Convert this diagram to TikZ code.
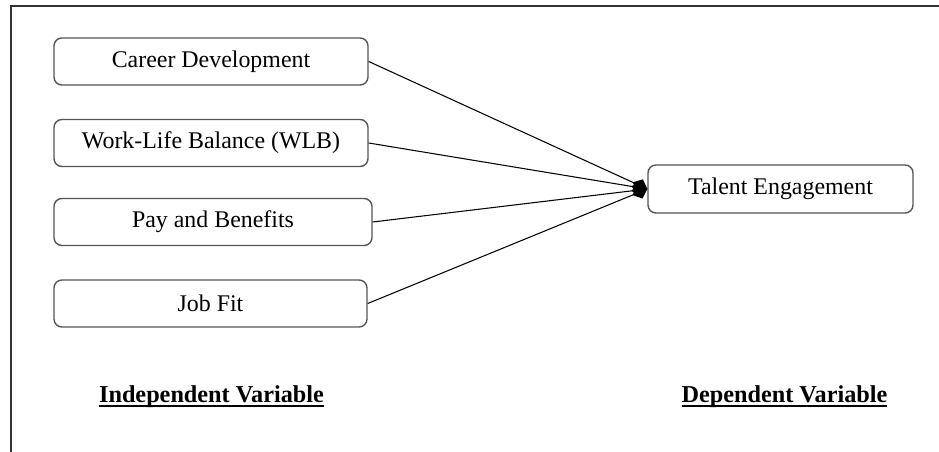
\documentclass[tikz,border=0pt]{standalone}
\usepackage{fontspec}
\setmainfont{Liberation Serif}
\usetikzlibrary{arrows.meta,positioning}
\definecolor{boxgray}{HTML}{555555}
\definecolor{framegray}{HTML}{333333}

% bold label with a heavier underline
\newcommand{\heavyul}[1]{\setbox0\hbox{#1}\rlap{\rule[-2.6pt]{\wd0}{1.1pt}}\box0}

\tikzset{
  varbox/.style={draw=boxgray, line width=0.8pt, rounded corners=4.5pt, fill=white,
    minimum width=6.28cm, minimum height=0.94cm, inner sep=0pt,
    font=\fontsize{13.6}{16}\selectfont},
  link/.style={black, line width=0.6pt, -{Diamond[length=3.2mm,width=2.8mm]}},
  varlabel/.style={font=\fontsize{13.8}{16}\selectfont\bfseries}
}

\begin{document}
\begin{tikzpicture}
\useasboundingbox (0,0) rectangle (18.78,-9.04);
\draw[framegray, line width=1pt] (0.22,-9.04) -- (0.22,-0.12) -- (18.78,-0.12);

\node[varbox] (career) at (4.22,-1.23) {Career Development};
\node[varbox] (wlb)    at (4.22,-2.86) {Work-Life Balance (WLB)};
\node[varbox, minimum width=6.36cm] (pay) at (4.26,-4.44) {Pay and Benefits};
\node[varbox, minimum width=6.26cm] (jobfit) at (4.21,-6.07) {Job Fit};

\node[varbox, minimum width=5.3cm, minimum height=0.96cm] (talent) at (15.61,-3.78) {Talent Engagement};

\draw[link] (career.east) -- (talent.west);
\draw[link] (wlb.east)    -- (talent.west);
\draw[link] (pay.east)    -- (talent.west);
\draw[link] (jobfit.east) -- (talent.west);

\node[varlabel] (indep) at (4.23,-7.94)  {\heavyul{Independent Variable}};
\node[varlabel] (dep)   at (15.69,-7.94) {\heavyul{Dependent Variable}};
\end{tikzpicture}
\end{document}
